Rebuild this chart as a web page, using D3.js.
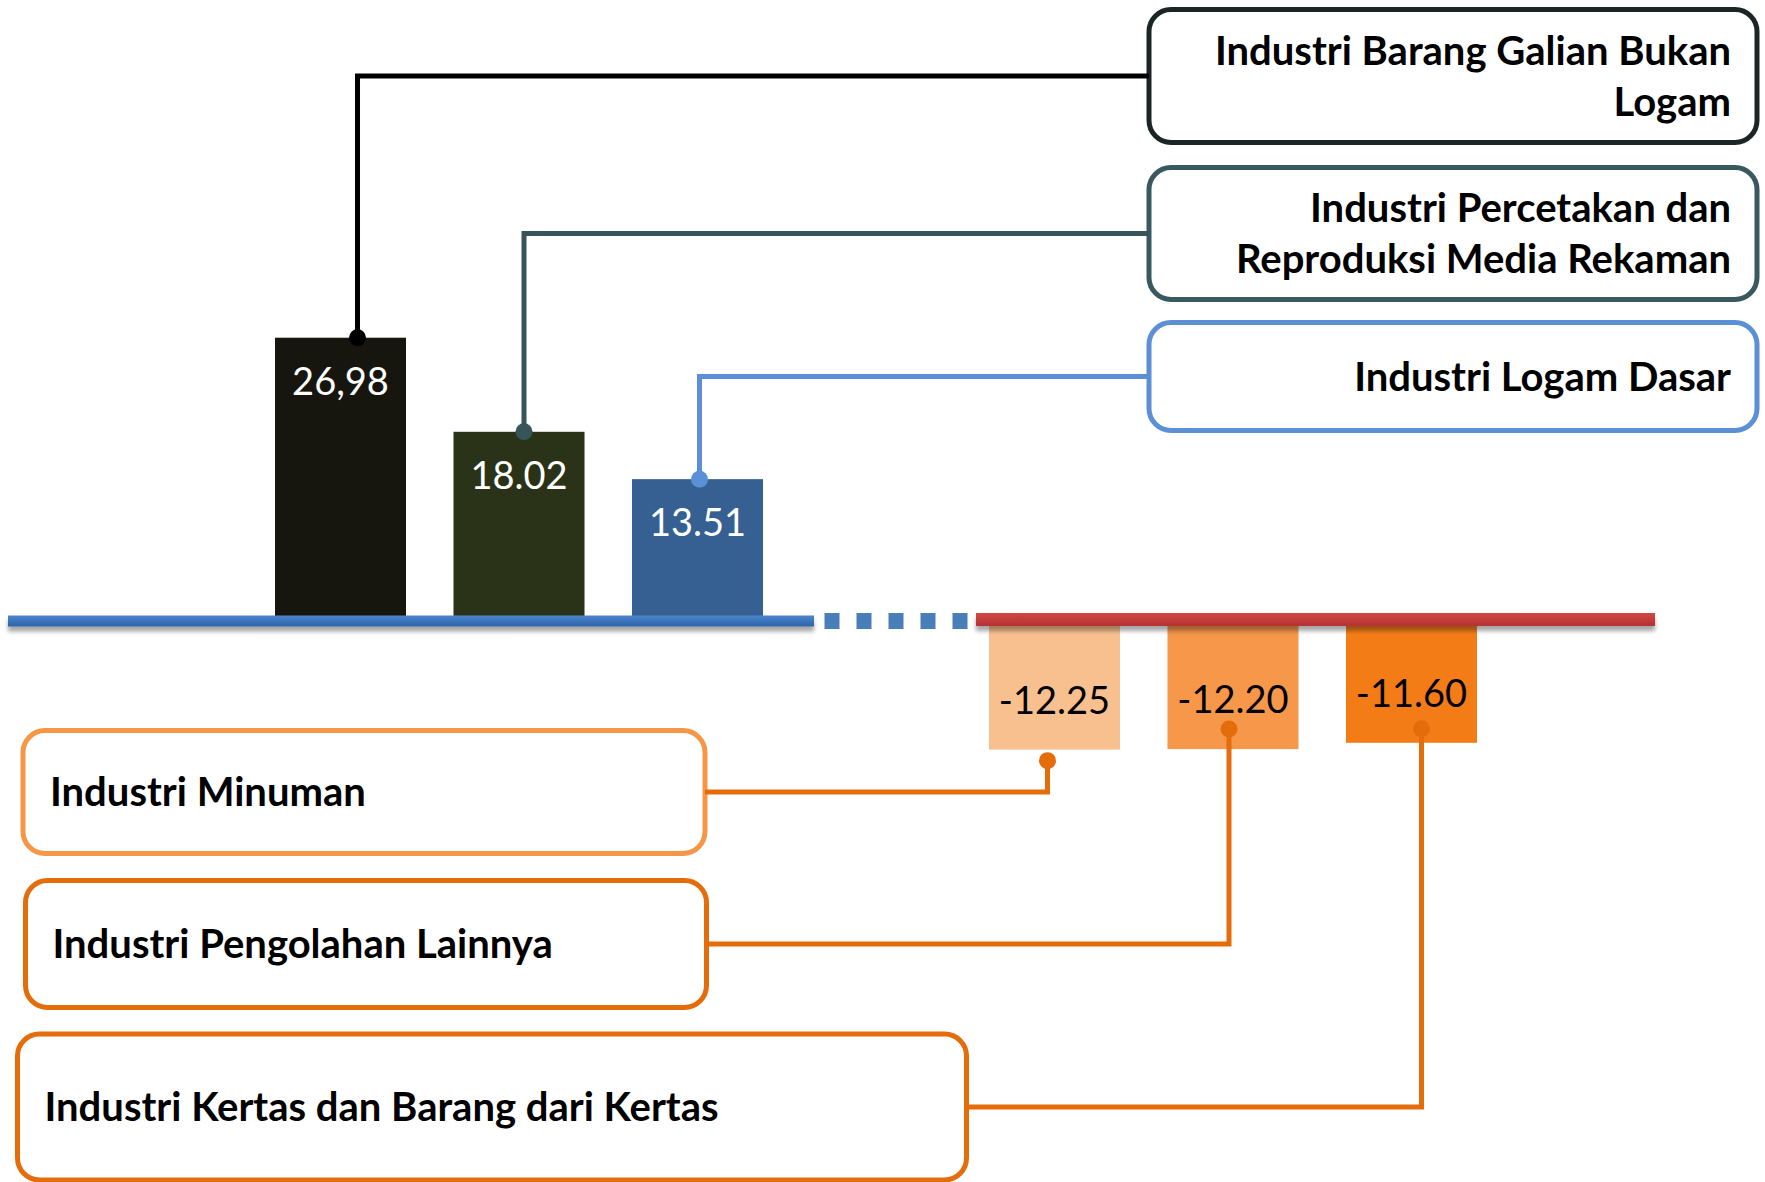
<!DOCTYPE html>
<html lang="en">
<head>
<meta charset="utf-8">
<title>Pertumbuhan Industri</title>
<script src="https://d3js.org/d3.v7.min.js"></script>
<style>
    body { margin: 0; background: #fff; }
    svg { display: block; }
    text { font-family: Lato, "Open Sans", sans-serif; }
</style>
</head>
<body>
<div id="s"></div>
<script>
var WIDTH = 1765;
var HEIGHT = 1182;

// data
var categories = [
    "Industri Barang Galian Bukan Logam",
    "Industri Percetakan dan Reproduksi Media Rekaman",
    "Industri Logam Dasar",
    "Industri Minuman",
    "Industri Pengolahan Lainnya",
    "Industri Kertas dan Barang dari Kertas"
];
var labelLines = [
    ["Industri Barang Galian Bukan", "Logam"],
    ["Industri Percetakan dan", "Reproduksi Media Rekaman"],
    ["Industri Logam Dasar"],
    ["Industri Minuman"],
    ["Industri Pengolahan Lainnya"],
    ["Industri Kertas dan Barang dari Kertas"]
];
var values = [26.98, 18.02, 13.51, -12.25, -12.20, -11.60];
var valueLabels = ["26,98", "18.02", "13.51", "-12.25", "-12.20", "-11.60"];

// colours
var barColors = ["#16160f", "#2a3318", "#366092", "#f9c08f", "#f6974a", "#f47c17"];
var lineColors = ["#000000", "#37545a", "#5b8fd6", "#e46c0a", "#e46c0a", "#e46c0a"];
var boxColors = ["#1c2525", "#3a5860", "#5b8fd6", "#f79646", "#e46c0a", "#e46c0a"];

// annotation boxes (x, y, w, h) and where the leader touches the bar
var boxes = [
    [1149, 9.5, 608, 133],
    [1149, 167.5, 608, 132],
    [1149, 322.5, 608, 108],
    [23, 730.5, 682, 123],
    [25.5, 880.5, 681, 127],
    [17.5, 1034, 949, 146]
];
var anchorShift = [[17, 0], [5, 0], [2, 0], [-7, 11], [-4, -20], [10, -14]];

const svg = d3.select("#s")
    .append("svg")
    .attr("width", WIDTH)
    .attr("height", HEIGHT);

var defs = svg.append("defs");
var sh = defs.append("filter").attr("id", "shadow")
    .attr("x", "-5%").attr("y", "-100%").attr("width", "110%").attr("height", "400%");
sh.append("feDropShadow").attr("dx", 0).attr("dy", 5).attr("stdDeviation", 2.2)
    .attr("flood-color", "#000").attr("flood-opacity", 0.35);

function vgrad(id, top, bottom) {
    var g = defs.append("linearGradient").attr("id", id)
        .attr("x1", 0).attr("y1", 0).attr("x2", 0).attr("y2", 1);
    g.append("stop").attr("offset", "0%").attr("stop-color", top);
    g.append("stop").attr("offset", "100%").attr("stop-color", bottom);
}
vgrad("blueLine", "#4a86cc", "#2e63a8");
vgrad("redLine", "#d04848", "#b53232");

// slot 3 is left empty between the positive and negative groups
function slot(i) { return i < 3 ? i : i + 1; }

var x = d3.scaleBand()
    .domain(d3.range(7))
    .range([275, 1477])
    .paddingInner(0.266)
    .paddingOuter(0);

var y = d3.scaleLinear()
    .domain([-15, 30])
    .range([778.5, 306]);

var y0 = y(0);

// bars
svg.append("g").selectAll("rect")
    .data(values)
    .join("rect")
    .attr("x", (d, i) => x(slot(i)))
    .attr("y", d => Math.min(y(d), y0))
    .attr("width", x.bandwidth())
    .attr("height", d => Math.abs(y(d) - y0))
    .attr("fill", (d, i) => barColors[i]);

// baseline: blue solid, blue dots, red solid
svg.append("rect")
    .attr("x", 8).attr("y", y0 - 5.5)
    .attr("width", 806).attr("height", 11)
    .attr("fill", "url(#blueLine)")
    .attr("filter", "url(#shadow)");
svg.append("line")
    .attr("x1", 824.5).attr("x2", 969)
    .attr("y1", y0).attr("y2", y0)
    .attr("stroke", "#4a7ebb").attr("stroke-width", 16)
    .attr("stroke-dasharray", "15 17");
svg.append("rect")
    .attr("x", 976).attr("y", y0 - 8)
    .attr("width", 679).attr("height", 13)
    .attr("fill", "url(#redLine)")
    .attr("filter", "url(#shadow)");

// boxes
svg.append("g").selectAll("rect")
    .data(boxes)
    .join("rect")
    .attr("x", d => d[0]).attr("y", d => d[1])
    .attr("width", d => d[2]).attr("height", d => d[3])
    .attr("rx", 22).attr("ry", 22)
    .attr("fill", "#fff")
    .attr("stroke", (d, i) => boxColors[i])
    .attr("stroke-width", 5);

// leaders
function anchor(i) {
    return [x(slot(i)) + x.bandwidth() / 2 + anchorShift[i][0], y(values[i]) + anchorShift[i][1]];
}
var lead = svg.append("g");
values.forEach(function (v, i) {
    var a = anchor(i);
    var b = boxes[i];
    var cy = b[1] + b[3] / 2;
    var ex = i < 3 ? b[0] : b[0] + b[2];
    lead.append("path")
        .attr("d", "M" + a[0] + "," + a[1] + "V" + cy + "H" + ex)
        .attr("fill", "none")
        .attr("stroke", lineColors[i])
        .attr("stroke-width", 5);
    lead.append("circle")
        .attr("cx", a[0]).attr("cy", a[1]).attr("r", 8.5)
        .attr("fill", lineColors[i]);
});

// value labels
svg.append("g").selectAll("text")
    .data(values)
    .join("text")
    .attr("x", (d, i) => x(slot(i)) + x.bandwidth() / 2)
    .attr("y", d => d > 0 ? y(d) + 57 : y(d) - 36)
    .attr("text-anchor", "middle")
    .attr("font-size", 38)
    .attr("fill", d => d > 0 ? "#ffffff" : "#000000")
    .text((d, i) => valueLabels[i]);

// box texts
var tg = svg.append("g");
labelLines.forEach(function (lines, i) {
    var b = boxes[i];
    var cy = b[1] + b[3] / 2;
    var right = i < 3;
    var t = tg.append("text")
        .attr("font-size", 40)
        .attr("font-weight", "bold")
        .attr("fill", "#000")
        .attr("text-anchor", right ? "end" : "start");
    lines.forEach(function (ln, j) {
        t.append("tspan")
            .attr("x", right ? b[0] + b[2] - 26 : b[0] + 27)
            .attr("y", cy + 14 + (j - (lines.length - 1) / 2) * 51)
            .text(ln);
    });
});
</script>
</body>
</html>
